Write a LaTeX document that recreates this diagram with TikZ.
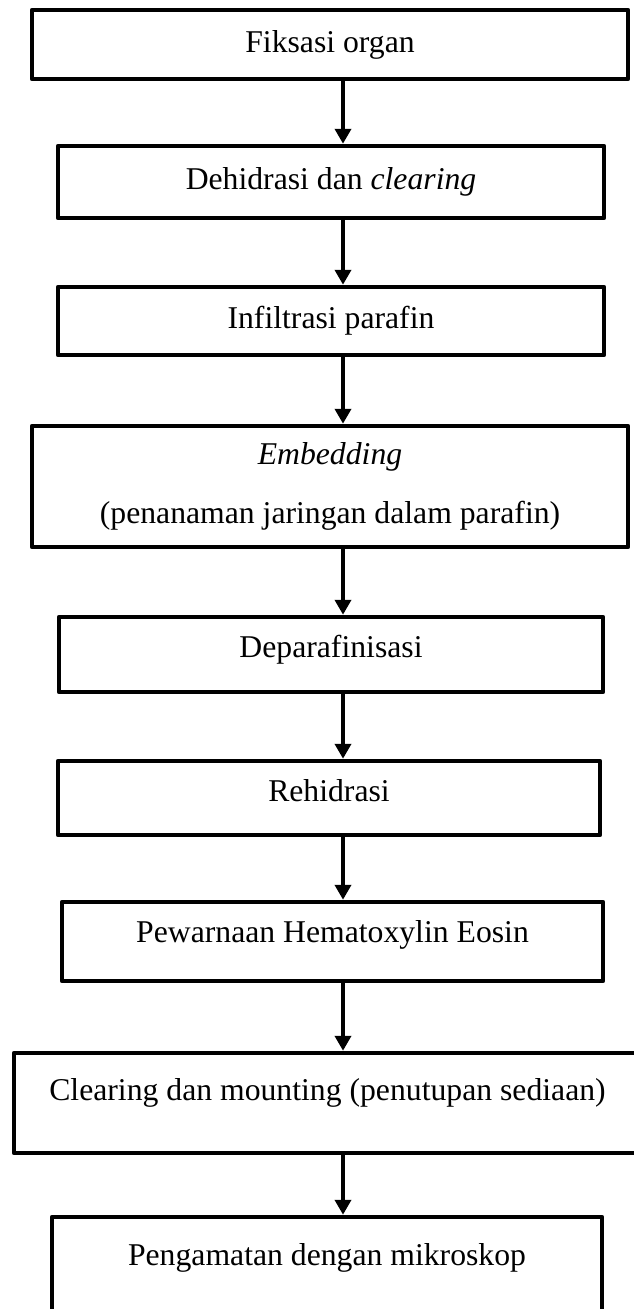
\documentclass[tikz,border=0pt]{standalone}
\usepackage{fontspec}
\setmainfont{Liberation Serif}
\usetikzlibrary{arrows.meta}

\tikzset{
  stage/.style={draw, line width=4.5pt, line join=round, inner sep=0pt,
    minimum height=#1, text height=22pt, text depth=7pt},
  lift/.style={text depth=#1},
  flow/.style={line width=3.8pt, -{Triangle[length=15pt,width=16pt]}},
}

\begin{document}
\begin{tikzpicture}[x=1pt, y=-1pt, node font=\fontsize{31.7pt}{59pt}\selectfont]
\clip (0,0) rectangle (634,1309);

\node[stage=69pt, minimum width=596pt] (fix) at (330,44.5) {Fiksasi organ};
\node[stage=72pt, minimum width=546pt] (deh) at (331,182) {Dehidrasi dan \textit{clearing}};
\node[stage=68pt, minimum width=546pt] (inf) at (331,321) {Infiltrasi parafin};
\node[stage=121pt, minimum width=596pt, text height={}, text depth={}, align=center] (emb) at (330,486.5)
  {\textit{Embedding}\\(penanaman jaringan dalam parafin)};
\node[stage=75pt, minimum width=544pt, lift=16pt] (dep) at (331,654.5) {Deparafinisasi};
\node[stage=74pt, minimum width=542pt, lift=15pt] (reh) at (329,798) {Rehidrasi};
\node[stage=79pt, minimum width=541pt, lift=20pt] (hae) at (332.5,941.5) {Pewarnaan Hematoxylin Eosin};
\node[stage=100pt, minimum width=627pt, lift=27pt] (mnt) at (327.5,1103) {Clearing dan mounting (penutupan sediaan)};
\node[stage=103pt, minimum width=550pt, lift=28pt] (obs) at (327,1268.5) {Pengamatan dengan mikroskop};

% arrows
\coordinate (ax) at (343,0);
\foreach \a/\b in {fix/deh, deh/inf, inf/emb, emb/dep, dep/reh, reh/hae, hae/mnt, mnt/obs}
  \draw[flow] (\a.south -| ax) -- (\b.north -| ax);

\end{tikzpicture}
\end{document}
